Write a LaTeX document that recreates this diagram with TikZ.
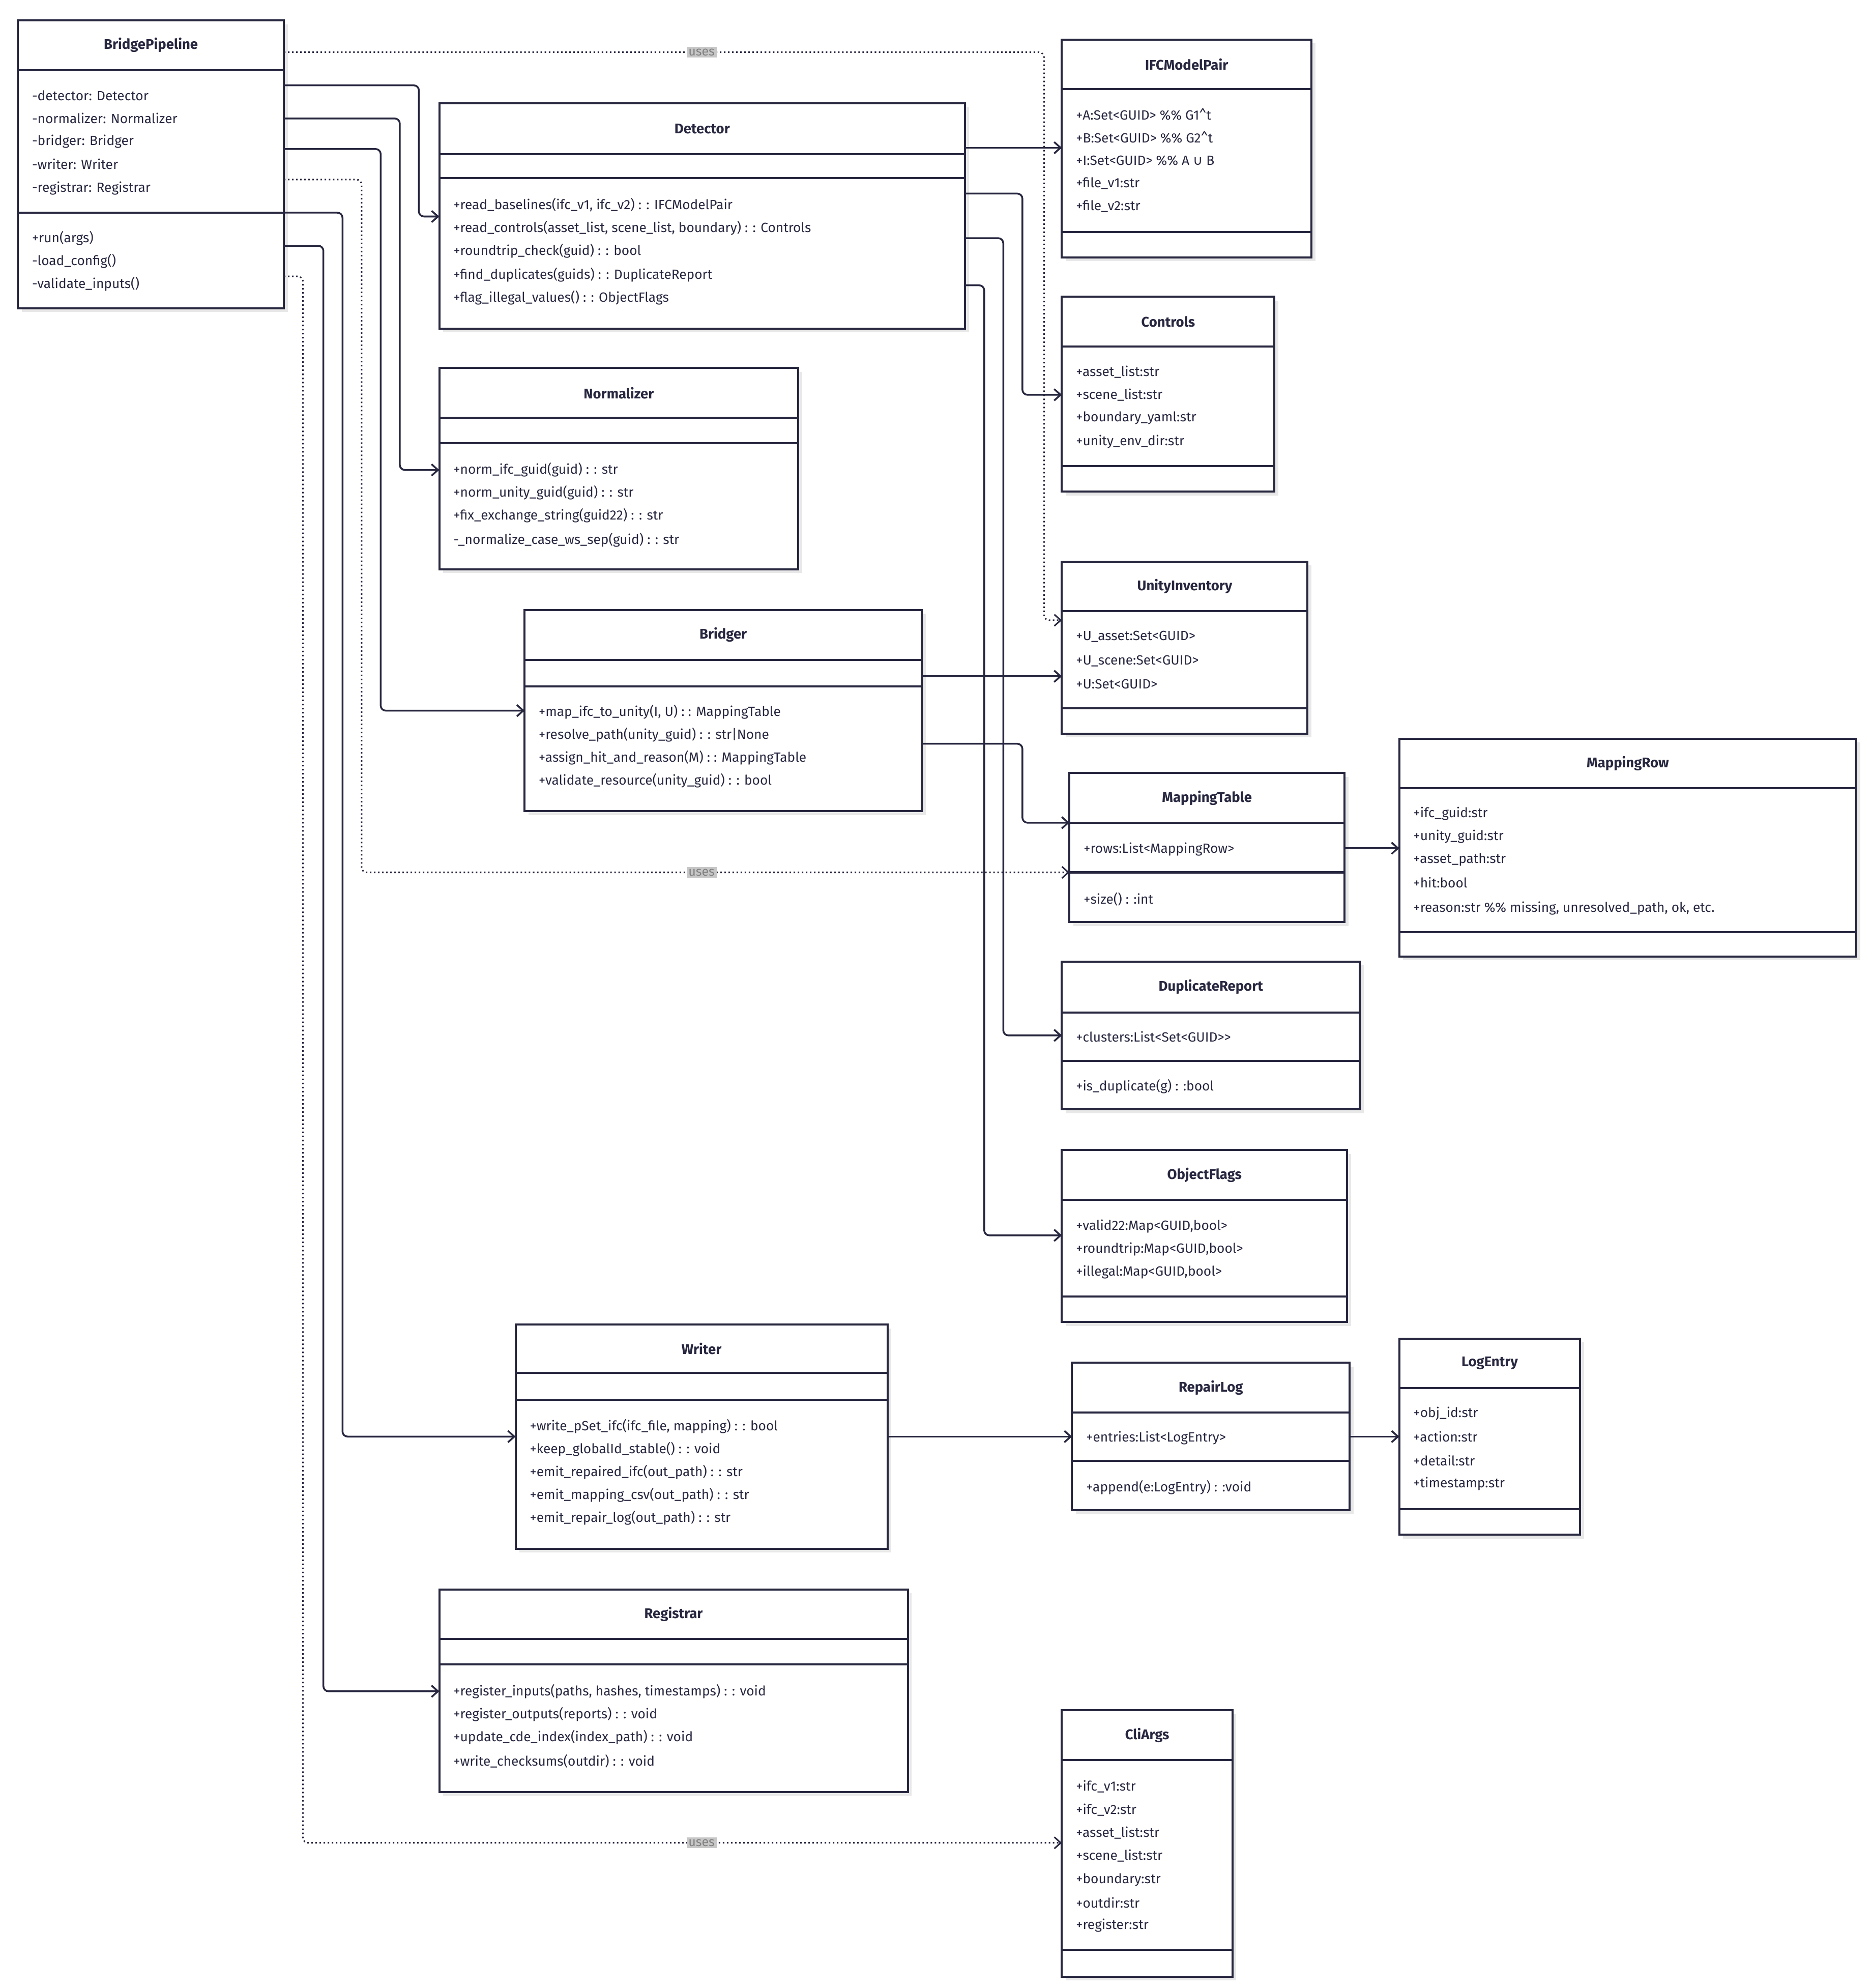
\documentclass[tikz,border=0pt]{standalone}
\usepackage{fontspec}
\setmainfont{Fira Sans}
\newfontfamily\djvfont{DejaVu Sans}
\usetikzlibrary{arrows.meta}
\definecolor{ink}{HTML}{272740}
\begin{document}
\begin{tikzpicture}[x=1pt,y=-1pt,
 box/.style={draw=ink,line width=1.6pt,fill=white,inner sep=0pt,outer sep=0pt},
 bline/.style={draw=ink,line width=1.6pt},
 ttl/.style={font=\fontsize{11}{13}\selectfont\bfseries,text=ink},
 txt/.style={anchor=west,inner sep=0pt,font=\fontsize{10.5}{12}\selectfont,text=ink},
 conn/.style={draw=ink,line width=1.4pt,rounded corners=4pt,-{Straight Barb[length=5pt,width=9pt]}},
 dep/.style={draw=ink,line width=1.2pt,dotted,rounded corners=4pt,-{Straight Barb[length=5pt,width=9pt]}},
 uses/.style={fill=black!22,text=black!50,inner sep=1.5pt,font=\fontsize{10}{11}\selectfont}]
\fill[white] (0,0) rectangle (1470,1561);
\useasboundingbox (0,0) rectangle (1470,1561);
\newcommand\cls[8]{%
 \pgfmathsetmacro\ww{#4-#2}\pgfmathsetmacro\hh{#5-#3}%
 \fill[black!9] (#2+3,#3+3) rectangle (#4+3,#5+3);
 \node[box,minimum width=\ww pt,minimum height=\hh pt,anchor=north west] (#1) at (#2,#3) {};
 \node[ttl] at ({(#2+#4)/2},{(#3+#7)/2}) {#6};
 \draw[bline] (#2,#7) -- (#4,#7);
 \draw[bline] (#2,#8) -- (#4,#8);}
\newcommand\mline[3]{\node[txt] at (#1,#2) {#3};}
% classes
\cls{bp}{14}{16}{223}{242}{BridgePipeline}{55}{167}
\mline{25}{75}{-detector: Detector}\mline{25}{93}{-normalizer: Normalizer}\mline{25}{111}{-bridger: Bridger}\mline{25}{129}{-writer: Writer}\mline{25}{148}{-registrar: Registrar}
\mline{25}{187}{+run(args)}\mline{25}{205}{-load\_config()}\mline{25}{223}{-validate\_inputs()}
\cls{det}{345}{81}{758}{258}{Detector}{121}{140}
\mline{356}{161}{+read\_baselines(ifc\_v1, ifc\_v2) : : IFCModelPair}
\mline{356}{179}{+read\_controls(asset\_list, scene\_list, boundary) : : Controls}
\mline{356}{197}{+roundtrip\_check(guid) : : bool}
\mline{356}{216}{+find\_duplicates(guids) : : DuplicateReport}
\mline{356}{234}{+flag\_illegal\_values() : : ObjectFlags}
\cls{nor}{345}{289}{627}{447}{Normalizer}{328}{348}
\mline{356}{369}{+norm\_ifc\_guid(guid) : : str}
\mline{356}{387}{+norm\_unity\_guid(guid) : : str}
\mline{356}{405}{+fix\_exchange\_string(guid22) : : str}
\mline{356}{424}{-\_normalize\_case\_ws\_sep(guid) : : str}
\cls{bri}{412}{479}{724}{637}{Bridger}{518}{539}
\mline{423}{559}{+map\_ifc\_to\_unity(I, U) : : MappingTable}
\mline{423}{577}{+resolve\_path(unity\_guid) : : str|None}
\mline{423}{595}{+assign\_hit\_and\_reason(M) : : MappingTable}
\mline{423}{613}{+validate\_resource(unity\_guid) : : bool}
\cls{wri}{405}{1040}{697}{1216}{Writer}{1078}{1099}
\mline{416}{1120}{+write\_pSet\_ifc(ifc\_file, mapping) : : bool}
\mline{416}{1138}{+keep\_globalId\_stable() : : void}
\mline{416}{1156}{+emit\_repaired\_ifc(out\_path) : : str}
\mline{416}{1174}{+emit\_mapping\_csv(out\_path) : : str}
\mline{416}{1192}{+emit\_repair\_log(out\_path) : : str}
\cls{reg}{345}{1248}{713}{1407}{Registrar}{1287}{1307}
\mline{356}{1328}{+register\_inputs(paths, hashes, timestamps) : : void}
\mline{356}{1346}{+register\_outputs(reports) : : void}
\mline{356}{1364}{+update\_cde\_index(index\_path) : : void}
\mline{356}{1383}{+write\_checksums(outdir) : : void}
\cls{ifc}{834}{31}{1030}{202}{IFCModelPair}{70}{182}
\mline{845}{90}{+A:Set<GUID> \%\% G1\textasciicircum t}
\mline{845}{108}{+B:Set<GUID> \%\% G2\textasciicircum t}
\mline{845}{126}{+I:Set<GUID> \%\% A {\djvfont ∪} B}
\mline{845}{144}{+file\_v1:str}\mline{845}{162}{+file\_v2:str}
\cls{con}{834}{233}{1001}{386}{Controls}{272}{366}
\mline{845}{292}{+asset\_list:str}\mline{845}{310}{+scene\_list:str}\mline{845}{328}{+boundary\_yaml:str}\mline{845}{347}{+unity\_env\_dir:str}
\cls{uni}{834}{441}{1027}{576}{UnityInventory}{480}{556}
\mline{845}{500}{+U\_asset:Set<GUID>}\mline{845}{519}{+U\_scene:Set<GUID>}\mline{845}{537}{+U:Set<GUID>}
\cls{mt}{840}{607}{1056}{724}{MappingTable}{646}{685}
\mline{851}{667}{+rows:List<MappingRow>}\mline{851}{706}{+size() : :int}
\cls{mr}{1099}{580}{1458}{751}{MappingRow}{619}{732}
\mline{1110}{639}{+ifc\_guid:str}\mline{1110}{657}{+unity\_guid:str}\mline{1110}{675}{+asset\_path:str}\mline{1110}{693}{+hit:bool}
\mline{1110}{713}{+reason:str \%\% missing, unresolved\_path, ok, etc.}
\cls{dup}{834}{755}{1068}{871}{DuplicateReport}{795}{833}
\mline{845}{814}{+clusters:List<Set<GUID>{}>}\mline{845}{853}{+is\_duplicate(g) : :bool}
\cls{of}{834}{903}{1058}{1038}{ObjectFlags}{942}{1018}
\mline{845}{963}{+valid22:Map<GUID,bool>}\mline{845}{981}{+roundtrip:Map<GUID,bool>}\mline{845}{999}{+illegal:Map<GUID,bool>}
\cls{rl}{842}{1070}{1060}{1186}{RepairLog}{1109}{1147}
\mline{853}{1129}{+entries:List<LogEntry>}\mline{853}{1168}{+append(e:LogEntry) : :void}
\cls{le}{1099}{1051}{1241}{1205}{LogEntry}{1090}{1185}
\mline{1110}{1110}{+obj\_id:str}\mline{1110}{1128}{+action:str}\mline{1110}{1147}{+detail:str}\mline{1110}{1165}{+timestamp:str}
\cls{cli}{834}{1343}{968}{1552}{CliArgs}{1382}{1531}
\mline{845}{1403}{+ifc\_v1:str}\mline{845}{1421}{+ifc\_v2:str}\mline{845}{1439}{+asset\_list:str}\mline{845}{1457}{+scene\_list:str}\mline{845}{1476}{+boundary:str}\mline{845}{1494}{+outdir:str}\mline{845}{1512}{+register:str}
% connectors from BridgePipeline
\draw[conn] (bp.east |- 0,67) -- (329,67) -- (329,170) -- (det.west |- 0,170);
\draw[conn] (bp.east |- 0,93) -- (314,93) -- (314,369) -- (nor.west |- 0,369);
\draw[conn] (bp.east |- 0,117) -- (299,117) -- (299,558) -- (bri.west |- 0,558);
\draw[conn] (bp.east |- 0,167) -- (269,167) -- (269,1128) -- (wri.west |- 0,1128);
\draw[conn] (bp.east |- 0,193) -- (254,193) -- (254,1328) -- (reg.west |- 0,1328);
\draw[dep] (bp.east |- 0,41) -- (820,41) -- (820,487) -- (uni.west |- 0,487);
\draw[dep] (bp.east |- 0,141) -- (284,141) -- (284,685) -- (mt.west |- 0,685);
\draw[dep] (bp.east |- 0,217) -- (238,217) -- (238,1447) -- (cli.west |- 0,1447);
\node[uses] at (551,41) {uses};
\node[uses] at (551,685) {uses};
\node[uses] at (551,1447) {uses};
% from Detector
\draw[conn] (det.east |- 0,116) -- (ifc.west |- 0,116);
\draw[conn] (det.east |- 0,152) -- (803,152) -- (803,310) -- (con.west |- 0,310);
\draw[conn] (det.east |- 0,187) -- (788,187) -- (788,813) -- (dup.west |- 0,813);
\draw[conn] (det.east |- 0,224) -- (773,224) -- (773,970) -- (of.west |- 0,970);
% from Bridger
\draw[conn] (bri.east |- 0,531) -- (uni.west |- 0,531);
\draw[conn] (bri.east |- 0,584) -- (803,584) -- (803,646) -- (mt.west |- 0,646);
\draw[conn] (mt.east |- 0,666) -- (mr.west |- 0,666);
\draw[conn] (wri.east |- 0,1128) -- (rl.west |- 0,1128);
\draw[conn] (rl.east |- 0,1128) -- (le.west |- 0,1128);
\end{tikzpicture}
\end{document}
